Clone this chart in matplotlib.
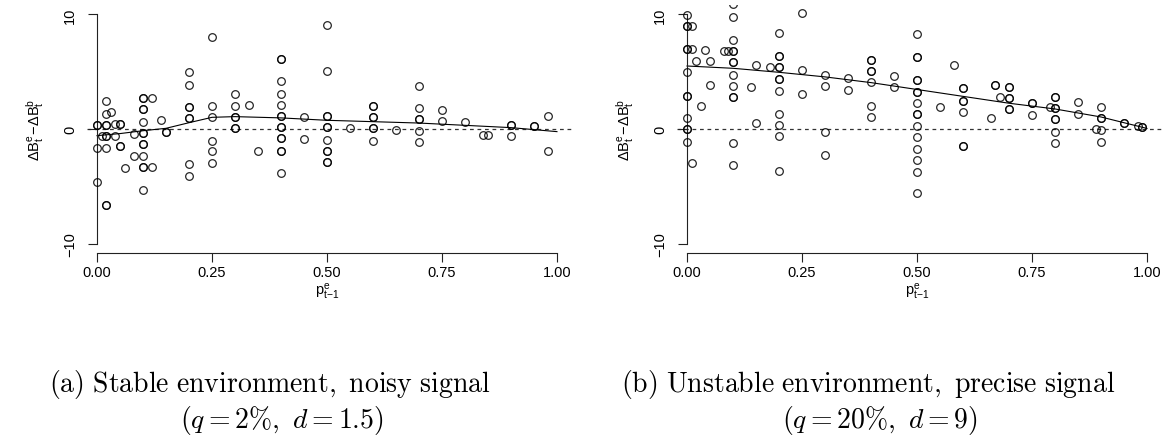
import matplotlib
matplotlib.use("Agg")
import matplotlib.pyplot as plt
import numpy as np

plt.rcParams['font.family'] = ['Liberation Sans', 'DejaVu Sans']

# panel (a): stable environment, noisy signal -- one list of values per x column
a_cols = [0.0, 0.01, 0.02, 0.03, 0.04, 0.05, 0.06, 0.08, 0.10, 0.12, 0.14, 0.15,
          0.20, 0.25, 0.30, 0.33, 0.35, 0.40, 0.45, 0.50, 0.55, 0.60, 0.65, 0.70,
          0.75, 0.80, 0.84, 0.85, 0.90, 0.95, 0.98]
a_vals = [
    [0.35, 0.35, -1.66, -4.66],
    [-0.58],
    [2.42, 1.31, 0.35, 0.35, -0.58, -0.58, -1.66, -6.6, -6.6],
    [1.45],
    [0.44, -0.58],
    [0.44, 0.44, -1.48, -1.48],
    [-3.43],
    [-0.41, -2.33],
    [2.7, 2.7, 1.75, 1.75, 0.64, -0.35, -0.35, -1.34, -1.34, -2.33, -3.29, -3.29, -5.3],
    [2.74, -3.29],
    [0.81],
    [-0.23, -0.23],
    [4.95, 3.87, 1.95, 1.95, 0.96, 0.96, -3.09, -4.07],
    [8.0, 2.04, 1.02, -1.02, -1.95, -3.0],
    [3.08, 2.04, 1.08, 1.08, 0.12, 0.12],
    [2.1],
    [-1.89],
    [6.11, 6.11, 4.16, 3.08, 2.12, 1.11, 1.11, 0.15, 0.15, -0.81, -0.81, -1.89, -1.89, -3.87],
    [1.08, -0.87],
    [9.11, 5.09, 1.11, 1.11, 0.15, 0.15, -0.93, -1.89, -1.89, -2.91, -2.91],
    [0.06],
    [1.98, 1.98, 1.02, 1.02, 0.06, 0.06, -1.02],
    [-0.06],
    [3.78, 1.86, 0.87, 0.87, -0.15, -1.16],
    [1.69, 0.73],
    [0.64],
    [-0.49],
    [-0.49],
    [0.35, 0.35, -0.64],
    [0.23, 0.23],
    [1.11, -1.89],
]
a_fit_x = [0.0, 0.05, 0.10, 0.15, 0.20, 0.25, 0.30, 0.40, 0.50, 0.60, 0.70, 0.80, 0.90, 1.0]
a_fit_y = [-0.58, -0.4, -0.15, 0.06, 0.55, 1.02, 1.08, 0.97, 0.76, 0.64, 0.52, 0.32, 0.12, -0.23]

# panel (b): unstable environment, precise signal
b_cols = [0.0, 0.01, 0.02, 0.03, 0.04, 0.05, 0.08, 0.09, 0.10, 0.14, 0.15, 0.18,
          0.20, 0.25, 0.30, 0.35, 0.40, 0.45, 0.50, 0.55, 0.58, 0.60, 0.66, 0.67,
          0.68, 0.70, 0.75, 0.79, 0.80, 0.85, 0.89, 0.90, 0.95, 0.98, 0.99]
b_vals = [
    [9.96, 9.02, 9.02, 6.99, 6.99, 4.95, 2.91, 2.91, 0.96, 0.0, 0.0, -1.11],
    [9.0, 6.99, -3.0],
    [5.91],
    [1.98],
    [6.93],
    [5.91, 3.87],
    [6.84],
    [6.84],
    [10.9, 9.75, 7.8, 6.84, 6.84, 5.82, 5.82, 4.72, 3.78, 2.77, 2.77, -1.22, -3.14],
    [3.64],
    [5.62, 0.52],
    [5.44],
    [8.36, 6.35, 6.35, 5.39, 5.39, 4.37, 4.37, 3.35, 1.31, 0.38, -0.64, -3.64],
    [10.1, 5.15, 3.06],
    [4.74, 3.78, -0.23, -2.24],
    [4.42, 3.44],
    [6.06, 6.06, 5.09, 5.09, 4.07, 2.04, 1.08],
    [4.66, 3.7],
    [8.33, 6.32, 6.32, 4.31, 4.31, 3.26, 3.26, 2.27, 1.31, 1.31, 0.29, -0.67, -1.75, -2.73, -3.73, -5.62],
    [1.89],
    [5.62],
    [3.55, 3.55, 2.47, 2.47, 1.51, -1.46, -1.46],
    [0.99],
    [3.87, 3.87],
    [2.82],
    [3.64, 3.64, 2.68, 2.68, 1.75, 1.75],
    [2.24, 2.24, 1.25],
    [1.89],
    [2.82, 2.82, 1.83, 1.83, 0.87, 0.87, -0.23, -1.22],
    [2.39, 1.31],
    [0.0],
    [1.89, 0.93, 0.93, -0.09, -1.11],
    [0.5, 0.5],
    [0.23],
    [0.15, 0.15],
]
b_fit_x = [0.0, 0.1, 0.2, 0.3, 0.4, 0.5, 0.6, 0.7, 0.8, 0.9, 1.0]
b_fit_y = [5.5, 5.3, 4.95, 4.55, 4.05, 3.45, 2.85, 2.25, 1.75, 1.05, 0.05]

xticks = [0.0, 0.25, 0.5, 0.75, 1.0]
xtick_labels = ['0.00', '0.25', '0.50', '0.75', '1.00']
yticks = [-10, 0, 10]
captions = [(r'$\mathrm{(a)\ Stable\ environment,\ noisy\ signal}$', r'$(q = 2\%,\ d = 1.5)$'),
            (r'$\mathrm{(b)\ Unstable\ environment,\ precise\ signal}$', r'$(q = 20\%,\ d = 9)$')]


def expand(cols, vals):
    xs = np.concatenate([[c] * len(v) for c, v in zip(cols, vals)])
    ys = np.concatenate(vals)
    return xs, ys


def draw_panel(ax, cols, vals, fit_x, fit_y):
    xs, ys = expand(cols, vals)
    ax.axhline(0, color='#333333', lw=0.9, ls=(0, (3, 3)), zorder=1)
    ax.plot(xs, ys, 'o', mfc='none', mec='black', ms=5.5, mew=0.9, alpha=0.85, zorder=3)
    ax.plot(fit_x, fit_y, color='black', lw=0.8, zorder=2)
    ax.set_xlim(-0.022, 1.034)
    ax.set_ylim(-10.8, 10.8)
    for s in ['top', 'right']:
        ax.spines[s].set_visible(False)
    ax.spines['left'].set_position(('data', 0))
    ax.spines['left'].set_bounds(-10, 10)
    ax.spines['bottom'].set_bounds(0, 1)
    for s in ['left', 'bottom']:
        ax.spines[s].set_color('#222222')
        ax.spines[s].set_linewidth(0.8)
    ax.set_xticks(xticks)
    ax.set_xticklabels(xtick_labels)
    ax.set_yticks(yticks)
    ax.set_yticklabels([str(t).replace('-', '\u2212') for t in yticks], rotation=90, va='center')
    ax.tick_params(axis='x', length=6.5, width=0.8, color='#222222', pad=2.5, labelsize=10.5)
    ax.tick_params(axis='y', length=6.5, width=0.8, color='#222222', pad=8, labelsize=10.5)
    ax.patch.set_alpha(0)


fig = plt.figure(figsize=(11.7, 4.39), dpi=100)
W, H = 1170.0, 439.0
ax1 = fig.add_axes([86.9 / W, 1 - 253.7 / H, 485.7 / W, 247.4 / H])
ax2 = fig.add_axes([676.9 / W, 1 - 253.7 / H, 485.7 / W, 247.4 / H])
draw_panel(ax1, a_cols, a_vals, a_fit_x, a_fit_y)
draw_panel(ax2, b_cols, b_vals, b_fit_x, b_fit_y)

ylab = r'$\mathregular{\Delta B^e_t\!-\!\Delta B^b_t}$'
xlab = r'$\mathregular{p^e_{t\!-\!1}}$'
for x0, x1 in [(35, 327), (625, 917)]:
    fig.text(x0 / W, 1 - 130 / H, ylab, rotation=90, ha='center', va='center', fontsize=10.5,
             math_fontfamily='dejavusans')
    fig.text(x1 / W, 1 - 292 / H, xlab, ha='center', va='center', fontsize=10.5,
             math_fontfamily='dejavusans')

# caption lines: (centre of line 1, centre of line 2) in pixels
for (l1, l2), (c1, c2) in zip(captions, [(270, 282), (868, 880)]):
    fig.text(c1 / W, 1 - 385 / H, l1, ha='center', va='center', fontsize=20, math_fontfamily='cm')
    fig.text(c2 / W, 1 - 421 / H, l2, ha='center', va='center', fontsize=20, math_fontfamily='cm')

fig.savefig('out.png', dpi=100)
